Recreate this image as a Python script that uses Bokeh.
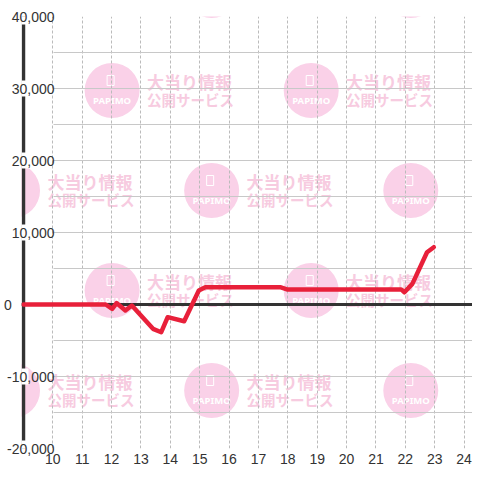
from bokeh.plotting import figure
from bokeh.models import FixedTicker, NumeralTickFormatter, Span, BoxAnnotation
from bokeh.core.properties import value
from bokeh.embed import file_html
from bokeh.resources import INLINE

# ---- data ----
hours = [9.0, 11.8, 12.02, 12.17, 12.47, 12.69, 13.41, 13.69, 13.91, 14.47,
         14.97, 15.19, 17.74, 17.97, 21.86, 21.97, 22.24, 22.74, 22.97]
values = [0, 0, -600, 200, -830, -140, -3380, -3850, -1760, -2320,
          1950, 2400, 2400, 2100, 2100, 1700, 2870, 7260, 7960]
x_ticks = list(range(10, 25))
y_major = [-20000, -10000, 0, 10000, 20000, 30000, 40000]
y_minor = [-15000, -5000, 5000, 15000, 25000, 35000]
x_start_hour = 9

FONT = "Liberation Sans"
W = H = 472
FRAME_L, FRAME_T, FRAME_B = 19, 16, 448
PX_H = 29.5              # pixels per hour
AXIS_PX = 21             # where the hour-9 axis line sits
X0 = x_start_hour - (AXIS_PX - FRAME_L) / PX_H
X1 = x_start_hour + (W - AXIS_PX) / PX_H
Y0, Y1 = -20000, 40000
PX_V = (FRAME_B - FRAME_T) / (Y1 - Y0)
ZERO_PX = FRAME_B - (0 - Y0) * PX_V

p = figure(width=W, height=H, x_range=(X0, X1), y_range=(Y0, Y1),
           output_backend="svg", toolbar_location=None,
           min_border_left=FRAME_L, min_border_right=0,
           min_border_top=FRAME_T, min_border_bottom=H - FRAME_B)
p.outline_line_color = None
p.background_fill_color = "white"
p.border_fill_color = "white"

# grids (horizontal lines start at the first hour tick)
p.xgrid.ticker = FixedTicker(ticks=x_ticks)
p.xgrid.grid_line_color = "#bbbbbb"
p.xgrid.grid_line_dash = "3 2"
p.ygrid.ticker = FixedTicker(ticks=y_major, minor_ticks=y_minor)
p.ygrid.grid_line_color = "#c8c8c8"
p.ygrid.minor_grid_line_color = "#c8c8c8"
try:
    p.ygrid.cross_bounds = (x_ticks[0] + 0.02, X1)
except Exception:
    p.add_layout(BoxAnnotation(right=x_ticks[0] - 0.01, fill_color="white",
                               fill_alpha=1, line_color=None, level="underlay"))

# ---- watermark (background decoration, tiled in screen pixels) ----
def h_of(sx):
    return x_start_hour + (sx - AXIS_PX) / PX_H
def v_of(sy):
    return (ZERO_PX - sy) / PX_V

cx_list, cy_list = [], []
for i, cy in enumerate(range(-10, 500, 100)):
    cols = [10, 210, 410] if i % 2 == 0 else [-90, 110, 310]
    for cx in cols:
        cx_list.append(cx)
        cy_list.append(cy)

def inside(x0, x1, y0, y1):
    return x0 >= FRAME_L and x1 <= W and y0 >= FRAME_T and y1 <= FRAME_B

p.scatter(x=[h_of(c) for c in cx_list], y=[v_of(c) for c in cy_list],
          size=55, marker="circle", fill_color="#fad1e8",
          line_color=None, level="image")
p.rect(x=[h_of(c - 1.5) for c in cx_list], y=[v_of(c - 10) for c in cy_list],
       width=7, height=10, width_units="screen", height_units="screen",
       fill_color=None, line_color="white", line_width=1, level="image")

pap = [(cx, cy) for cx, cy in zip(cx_list, cy_list)
       if inside(cx - 20, cx + 20, cy + 4, cy + 16)]
p.text(x=[h_of(c[0]) for c in pap], y=[v_of(c[1] + 10) for c in pap],
       text=["PAPIMO"] * len(pap), text_font=value("Noto Sans"),
       text_font_size="9.5px", text_font_style="bold",
       text_color="white", text_align="center", text_baseline="middle",
       level="image")
txt = [(cx, cy) for cx, cy in zip(cx_list, cy_list)
       if inside(cx + 34, cx + 124, cy - 19, cy + 18)]
p.text(x=[h_of(c[0] + 35) for c in txt], y=[v_of(c[1] - 9) for c in txt],
       text=["大当り情報"] * len(txt), text_font=value("Noto Sans CJK JP"),
       text_font_style="bold", text_font_size="17px", text_color="#f7cbe0",
       text_align="left", text_baseline="middle", level="image")
p.text(x=[h_of(c[0] + 35) for c in txt], y=[v_of(c[1] + 9) for c in txt],
       text=["公開サービス"] * len(txt), text_font=value("Noto Sans CJK JP"),
       text_font_style="bold", text_font_size="14.5px", text_color="#f7cbe0",
       text_align="left", text_baseline="middle", level="image")

# y axis line (at the first hour) and zero line
p.add_layout(Span(location=x_start_hour, dimension="height",
                  line_color="#333333", line_width=3.5, level="underlay"))
p.add_layout(Span(location=0, dimension="width", line_color="#333333",
                  line_width=3, level="underlay"))

# white backing behind the y labels where they cross the axis line
lab_ticks = [t for t in y_major if t != 0]
p.rect(x=[x_start_hour] * len(lab_ticks), y=lab_ticks, width=10, height=16,
       width_units="screen", height_units="screen", fill_color="white",
       line_color=None)

# data line
p.line(hours, values, line_color="#e8203a", line_width=4.5,
       line_join="round", line_cap="round")

# axes
xa = p.xaxis[0]
xa.ticker = FixedTicker(ticks=x_ticks)
xa.axis_line_color = None
xa.major_tick_line_color = None
xa.minor_tick_line_color = None
xa.major_tick_out = 0
xa.major_tick_in = 0
xa.major_label_standoff = 5
xa.major_label_text_font = FONT
xa.major_label_text_font_size = "14px"
xa.major_label_text_color = "#333333"

ya = p.yaxis[0]
ya.ticker = FixedTicker(ticks=y_major)
ya.formatter = NumeralTickFormatter(format="0,0")
ya.axis_line_color = None
ya.major_tick_line_color = None
ya.major_tick_out = 0
ya.major_tick_in = 0
ya.minor_tick_line_color = None
ya.major_label_standoff = -(52 - FRAME_L)
ya.major_label_overrides = {0: "0" + "\u00a0" * 11}
ya.major_label_text_font = FONT
ya.major_label_text_font_size = "14px"
ya.major_label_text_color = "#333333"

open("out.html", "w").write(file_html(p, INLINE))
